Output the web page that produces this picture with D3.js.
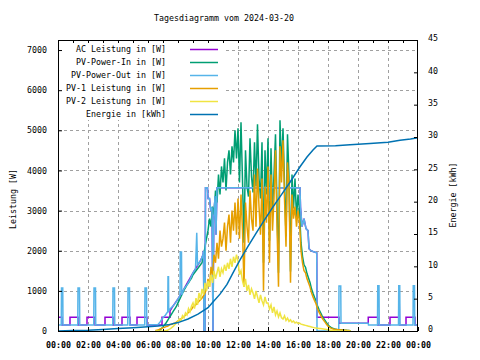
<!DOCTYPE html>
<html><head><meta charset="utf-8">
<script src="https://cdn.jsdelivr.net/npm/d3@7"></script>
<style>
body{margin:0;background:#fff;}
text{font-family:"DejaVu Sans Mono","Liberation Mono",monospace;font-size:8.3px;fill:#000;}
</style></head>
<body><svg id="c" width="480" height="360"></svg>
<script>
// ---------- DATA ----------
const title = "Tagesdiagramm vom 2024-03-20";
const yLabel = "Leistung [W]";
const y2Label = "Energie [kWh]";
const seriesNames = ["AC Leistung in [W]","PV-Power-In in [W]","PV-Power-Out in [W]","PV-1 Leistung in [W]","PV-2 Leistung in [W]","Energie in [kWh]"];
const seriesColors = ["#9400d3","#009e73","#56b4e9","#e69f00","#f0e442","#0072b2"];
const xTickLabels = ["00:00","02:00","04:00","06:00","08:00","10:00","12:00","14:00","16:00","18:00","20:00","22:00","00:00"];
const yTicks = [0,1000,2000,3000,4000,5000,6000,7000];
const y2Ticks = [0,5,10,15,20,25,30,35,40,45];

// regularly sampled day series: start 06:30, every 6 minutes
const dayStart = "06:30", dayStepMin = 6;
const pvIn = [0,0,0,20,60,
 100,150,200,260,320,380,440,500,560,620,
 700,780,860,940,1020,1080,1150,1200,1260,1320,
 1400,1450,1500,1550,1600,1650,1700,1850,2100,2300,
 2500,2800,2600,3100,2900,3500,3200,3900,3400,4100,
 3700,4300,3500,4200,4500,3900,4600,4200,5000,4300,
 5050,3700,5200,3750,2200,4500,3600,3350,4800,3850,
 3450,4700,3600,5150,3800,3300,4700,1700,4500,3400,
 4800,2250,4550,2950,3900,4900,3100,1450,5250,4030,
 5050,3680,2360,4900,3840,1480,3900,3050,3800,2820,
 3400,3000,2200,1860,1650,1590,1430,1320,1210,1050,
 940,840,755,630,535,460,385,320,265,210,
 150,115,90,70,55,45,35,30,30,25,
 25,20,20,15,10,0];
const pv1 = [10,20,30,50,60,
 80,90,110,120,140,160,170,190,200,220,
 250,270,300,330,360,400,430,460,500,540,
 600,620,660,700,740,780,820,880,950,1050,
 1300,1100,1600,1400,1900,1700,2200,1800,2500,2100,
 2300,2700,2000,2600,2900,2200,3000,2500,3200,2400,
 3300,2300,3400,2500,1100,3200,2600,2200,3500,2800,
 2500,3900,2600,4050,3100,2400,3800,1000,3600,2700,
 4100,1700,3900,2500,3300,4500,2600,1100,4600,3700,
 4750,3300,2100,4200,3600,1200,3400,2800,3100,2600,
 3000,2700,2000,1700,1500,1450,1300,1200,1100,950,
 850,760,680,560,470,400,330,270,220,170,
 120,90,70,55,45,40,35,30,30,25,
 25,20,20,15,10,0];
const pv2 = [0,0,0,0,0,
 0,0,10,20,40,60,90,120,160,200,
 240,300,260,380,330,450,400,560,480,620,
 700,560,820,650,950,780,1050,900,1200,1000,
 1250,1100,1400,1200,1500,1300,1450,1600,1350,1550,
 1450,1650,1500,1700,1550,1800,1600,1850,1700,1900,
 1750,1400,1500,1250,1100,1300,1000,1150,900,1050,
 950,800,1000,850,700,900,750,650,850,700,
 700,550,650,450,600,400,500,350,450,330,
 300,380,260,320,240,280,220,250,200,220,
 190,200,170,160,150,140,130,120,110,100,
 90,80,75,70,65,60,55,50,45,40,
 30,25,20,15,10,5,0,0,0,0,
 0,0,0,0,0,0];

// irregular series [time, W]
const pvOutNightMorning = [["00:00",150],["00:13",150],["00:14",1070],["00:19",1070],["00:20",150],
 ["01:19",150],["01:20",1070],["01:26",1070],["01:27",150],
 ["02:23",150],["02:24",1070],["02:30",1070],["02:31",150],
 ["03:39",150],["03:40",1070],["03:46",1070],["03:47",150],
 ["04:39",150],["04:40",1070],["04:46",1070],["04:47",150],
 ["05:47",150],["05:48",1070],["05:54",1070],["05:55",150],
 ["06:40",160],["06:48",220],["06:54",280],["07:00",330],["07:10",400],["07:19",480],["07:20",1350],["07:22",1350],["07:23",500],
 ["07:30",560],["07:40",620],["07:50",700],["08:00",800],["08:08",880],["08:09",1970],["08:14",1970],["08:15",900],
 ["08:24",1050],["08:36",1150],["08:48",1280],["09:00",1450],["09:10",1550],["09:15",2450],["09:18",1650],["09:30",1750],["09:40",1900]];
const outputDay = [["09:42",2000],["09:44",0],["09:48",0],["09:50",3570],["09:58",3570],["10:00",3300],["10:06",3300],["10:11",3000],
 ["10:16",3080],["10:20",0],["10:23",2750],["10:28",3360],["10:32",2400],["10:36",3570],["14:08",3570],["14:09",3250],["14:14",3250],
 ["14:15",3570],["16:08",3570],["16:10",3090],["16:16",2600],["16:24",2800],["16:32",2550],["16:40",2500],["16:44",2050],
 ["16:52",2000],["17:00",1980],["17:15",1950]];
const pvOutEvening = [["17:16",0],["18:43",0],["18:44",1120],["18:51",1120],["18:52",190],["20:41",190],["20:42",150],
 ["21:18",150],["21:19",1130],["21:24",1130],["21:25",150],["22:42",150],["22:43",1130],["22:47",1130],["22:48",150],
 ["23:40",150],["23:41",1130],["23:46",1130],["23:47",150],["24:00",150]];
const acNightMorning = [["00:00",340],["00:16",340],["00:16",150],["00:48",150],["00:48",340],["01:20",340],["01:20",150],
 ["01:56",150],["01:56",340],["02:28",340],["02:28",150],["03:08",150],["03:08",340],["03:40",340],["03:40",150],
 ["04:16",150],["04:16",340],["04:48",340],["04:48",150],["05:16",150],["05:16",340],["05:56",340],["05:56",150],
 ["06:56",150],["06:56",340],["07:28",340],["07:28",500],["07:40",620],["08:00",800],["08:24",1050],["09:00",1450],
 ["09:30",1750],["09:40",1900]];
const acEvening = [["17:16",340],["18:44",340],["18:44",190],["20:41",190],["20:41",340],["21:19",340],["21:19",150],
 ["22:08",150],["22:08",340],["22:45",340],["22:45",730],["22:46",150],["23:12",150],["23:12",340],["23:48",340],
 ["23:48",150],["24:00",150]];
const energy = [["00:00",0.0],["01:00",0.08],["02:00",0.12],["03:00",0.25],["04:00",0.4],["05:00",0.52],["06:00",0.66],
 ["06:40",0.77],["07:20",0.95],["08:00",1.3],["08:40",1.85],["09:20",2.6],["10:00",3.6],["10:20",4.5],["10:48",5.7],
 ["11:16",7.2],["11:40",9.0],["12:08",11.0],["12:40",13.1],["13:12",15.1],["13:48",17.3],["14:20",19.2],["14:56",21.2],
 ["15:28",23.0],["16:08",25.4],["16:36",26.9],["17:00",28.0],["17:16",28.6],["18:30",28.65],["19:28",28.8],
 ["20:48",29.0],["22:00",29.2],["22:48",29.5],["23:30",29.7],["24:00",29.9]];

// ---------- BUILD ----------
const toMin = s => { const [h,m] = s.split(":").map(Number); return h*60+m; };
const startMin = toMin(dayStart);
const reg = arr => arr.map((v,i)=>[startMin + i*dayStepMin, v]);
const irr = arr => arr.map(d=>[toMin(d[0]), d[1]]);

const acData = irr(acNightMorning.concat(outputDay, acEvening));
const outData = irr(pvOutNightMorning.concat(outputDay, pvOutEvening));
const inData = reg(pvIn), p1Data = reg(pv1), p2Data = reg(pv2);
const enData = irr(energy);

const L=58, R=418, T=40, B=331;
const svg = d3.select("#c");
const x = d3.scaleLinear().domain([0,1440]).range([L,R]);
const y = d3.scaleLinear().domain([0,7250]).range([B,T]);
const y2 = d3.scaleLinear().domain([0,45]).range([B,T]);

// grid
const grid = svg.append("g").attr("stroke","#a0a0a0").attr("stroke-dasharray","3,3").attr("stroke-width",1);
const xTickVals = xTickLabels.map((d,i)=>i*120);
xTickVals.slice(1,-1).forEach(v=>grid.append("line").attr("x1",x(v)+0.5).attr("x2",x(v)+0.5).attr("y1",T).attr("y2",B));
yTicks.slice(1).forEach(v=>grid.append("line").attr("x1",L).attr("x2",R).attr("y1",Math.round(y(v))+0.5).attr("y2",Math.round(y(v))+0.5));

// legend background
svg.append("rect").attr("x",L+1).attr("y",T+1).attr("width",164).attr("height",79).attr("fill","#fff");

// data
svg.append("clipPath").attr("id","clip").append("rect").attr("x",L).attr("y",T).attr("width",R-L).attr("height",B-T);
const lineY = d3.line().x(d=>x(d[0])).y(d=>y(d[1]));
const lineY2 = d3.line().x(d=>x(d[0])).y(d=>y2(d[1]));
const g = svg.append("g").attr("clip-path","url(#clip)").attr("fill","none").attr("stroke-width",1.5);
[acData,inData,outData,p1Data,p2Data].forEach((d,i)=>g.append("path").attr("d",lineY(d)).attr("stroke",seriesColors[i]));
g.append("path").attr("d",lineY2(enData)).attr("stroke",seriesColors[5]);

// axes
const styleAx = sel => { sel.select(".domain").remove(); sel.selectAll("line").attr("stroke","#000"); sel.selectAll("text").attr("font-family",null).attr("font-size",null); };
svg.append("g").attr("transform",`translate(0,${B})`)
  .call(d3.axisBottom(x).tickValues(xTickVals).tickSize(-4).tickPadding(11).tickFormat((d,i)=>xTickLabels[i]))
  .call(styleAx).selectAll("text").attr("font-weight","bold");
svg.append("g").attr("transform",`translate(0,${B})`)
  .call(d3.axisBottom(x).tickValues(d3.range(60,1440,120)).tickSize(-2).tickFormat("")).call(styleAx);
svg.append("g").attr("transform",`translate(0,${T})`)
  .call(d3.axisTop(x).tickValues(d3.range(60,1440,60)).tickSize(-3).tickFormat("")).call(styleAx);
svg.append("g").attr("transform",`translate(${L},0)`)
  .call(d3.axisLeft(y).tickValues(yTicks).tickSize(-4).tickPadding(11).tickFormat(d3.format("d"))).call(styleAx);
svg.append("g").attr("transform",`translate(${R},0)`)
  .call(d3.axisRight(y2).tickValues(y2Ticks).tickSize(-4).tickPadding(10).tickFormat(d3.format("d"))).call(styleAx)
  .selectAll("text").attr("dy","0.1em");
svg.append("rect").attr("x",L+0.5).attr("y",T+0.5).attr("width",R-L-1).attr("height",B-T).attr("fill","none").attr("stroke","#000");

// legend
seriesNames.forEach((n,i)=>{
  const cy = 49 + i*13;
  svg.append("text").attr("x",166).attr("y",cy).attr("dy","0.35em").attr("text-anchor","end").text(n);
  svg.append("line").attr("x1",190).attr("x2",218).attr("y1",cy+0.5).attr("y2",cy+0.5).attr("stroke",seriesColors[i]).attr("stroke-width",1.5);
});

// titles
svg.append("text").attr("x",224).attr("y",18).attr("dy","0.35em").attr("text-anchor","middle").text(title);
svg.append("text").attr("transform","translate(13,199) rotate(-90)").attr("dy","0.35em").attr("text-anchor","middle").text(yLabel);
svg.append("text").attr("transform","translate(453,195) rotate(-90)").attr("dy","0.35em").attr("text-anchor","middle").text(y2Label);
</script></body></html>
